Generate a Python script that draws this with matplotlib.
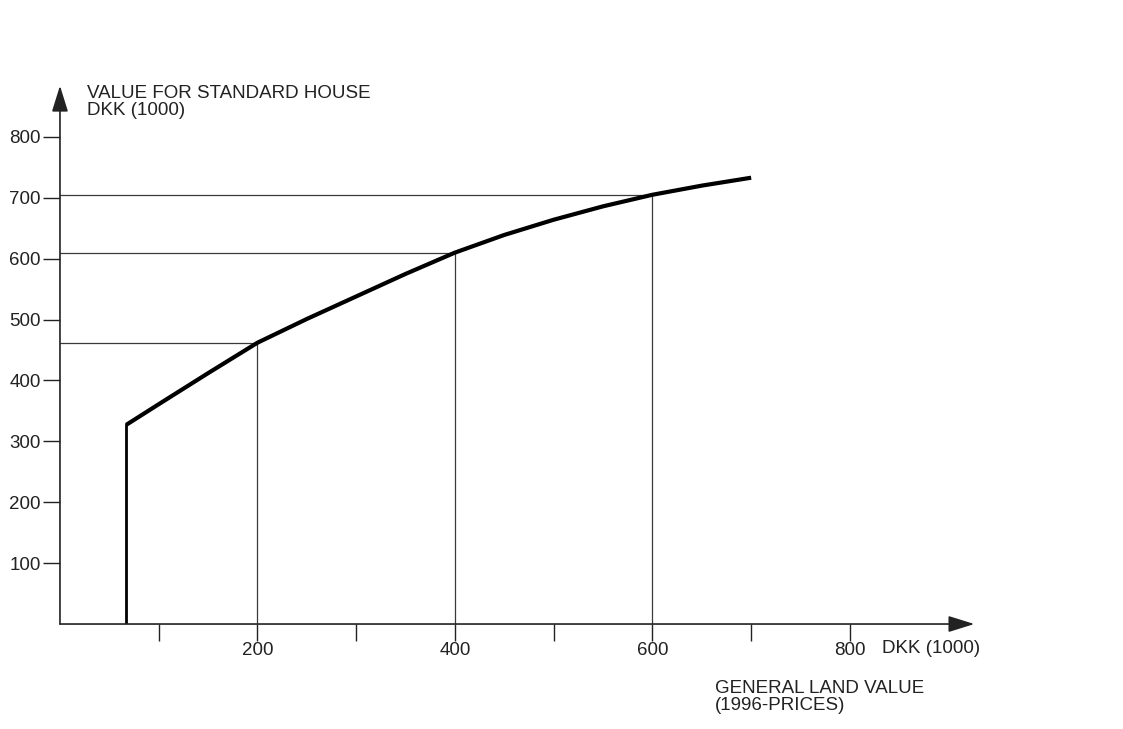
import matplotlib
matplotlib.use("Agg")
import matplotlib.pyplot as plt

plt.rcParams['font.family'] = ['Liberation Sans', 'DejaVu Sans']

# curve (DKK 1000)
land = [67, 100, 150, 200, 250, 300, 350, 400, 450, 500, 550, 600, 650, 700]
house = [327, 361, 412, 462, 501, 538, 575, 610, 639, 664, 686, 705, 720, 733]

# reading guides
guide_x = [200, 400, 600]
guide_y = [462, 610, 705]

xticks = [100, 200, 300, 400, 500, 600, 700, 800]
xlabels = ['', '200', '', '400', '', '600', '', '800']
yticks = [100, 200, 300, 400, 500, 600, 700, 800]

fig = plt.figure(figsize=(11.23, 7.29), dpi=100)
ax = fig.add_axes([0.0534, 0.144, 0.8353, 0.7517])
ax.set_xlim(0, 950)
ax.set_ylim(0, 900)

for s in ax.spines.values():
    s.set_visible(False)

ink = '#222222'
fs = 13.5

# guide lines
for gx, gy in zip(guide_x, guide_y):
    ax.plot([0, gx], [gy, gy], color='#3a3a3a', lw=0.9)
    ax.plot([gx, gx], [-20, gy], color='#3a3a3a', lw=0.9)

# the curve with its vertical start
ax.plot([land[0], land[0]], [0, house[0]], color='black', lw=2.0)
ax.plot(land, house, color='black', lw=3.0, solid_capstyle='butt',
        solid_joinstyle='round')

# axes with arrows
ax.annotate('', xy=(926, 0), xytext=(0, 0),
            arrowprops=dict(arrowstyle='-|>,head_length=1.6,head_width=0.5',
                            color=ink, lw=1.2, shrinkA=0, shrinkB=0),
            annotation_clip=False)
ax.annotate('', xy=(0, 884), xytext=(0, 0),
            arrowprops=dict(arrowstyle='-|>,head_length=1.6,head_width=0.5',
                            color=ink, lw=1.2, shrinkA=0, shrinkB=0),
            annotation_clip=False)

ax.set_xticks(xticks)
ax.set_xticklabels(xlabels)
ax.set_yticks(yticks)
ax.tick_params(axis='x', direction='out', length=12, width=1, color=ink,
               labelsize=fs, pad=1, labelcolor=ink)
ax.tick_params(axis='y', direction='out', length=12, width=1, color=ink,
               labelsize=fs, pad=2, labelcolor=ink)

ax.text(27, 886, 'VALUE FOR STANDARD HOUSE\nDKK (1000)', fontsize=fs,
        color=ink, va='top', ha='left', linespacing=1.0)
ax.text(833, -40, 'DKK (1000)', fontsize=fs, color=ink, va='center', ha='left')
ax.text(663, -92, 'GENERAL LAND VALUE\n(1996-PRICES)', fontsize=fs,
        color=ink, va='top', ha='left', linespacing=1.0)

fig.savefig('out.png', dpi=100)
